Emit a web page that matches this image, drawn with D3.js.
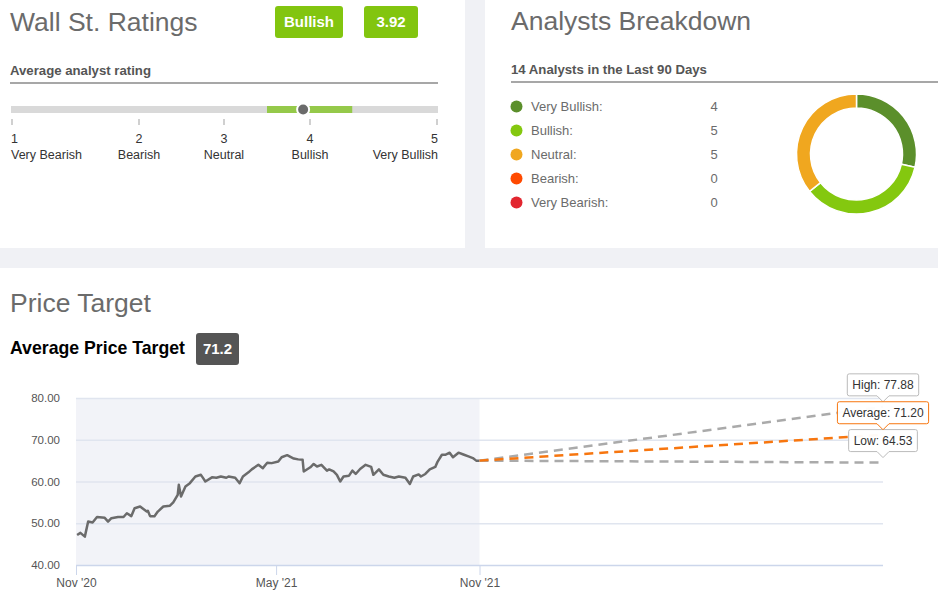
<!DOCTYPE html>
<html>
<head>
<meta charset="utf-8">
<script src="https://cdn.jsdelivr.net/npm/d3@7"></script>
<style>
  body { margin: 0; background: #f0f1f5; }
  svg { display: block; font-family: "Liberation Sans", Arial, sans-serif; }
</style>
</head>
<body>
<svg id="chart" width="938" height="592"></svg>
<script>
// ratings
const ratingScaleValues = [1, 2, 3, 4, 5];
const ratingScaleLabels = ["Very Bearish", "Bearish", "Neutral", "Bullish", "Very Bullish"];
const ratingAverage = 3.92;
const ratingBand = [3.5, 4.33];
const ratingText = "Bullish";

// breakdown
const breakdownLabels = ["Very Bullish", "Bullish", "Neutral", "Bearish", "Very Bearish"];
const breakdownCounts = [4, 5, 5, 0, 0];
const breakdownColors = ["#5b8f2b", "#84c80f", "#f0a71f", "#ff4a00", "#e2262f"];

// price history
const priceDates = [
  "2020-11-02", "2020-11-05", "2020-11-09", "2020-11-12", "2020-11-16", "2020-11-20", "2020-11-27", "2020-11-30",
  "2020-12-03", "2020-12-09", "2020-12-14", "2020-12-17", "2020-12-21", "2020-12-24", "2020-12-29",
  "2021-01-04", "2021-01-05", "2021-01-07", "2021-01-11", "2021-01-14", "2021-01-19", "2021-01-25", "2021-01-28",
  "2021-02-01", "2021-02-02", "2021-02-04", "2021-02-08", "2021-02-12", "2021-02-17", "2021-02-22", "2021-02-24", "2021-02-26",
  "2021-03-04", "2021-03-08", "2021-03-12", "2021-03-17", "2021-03-19", "2021-03-25", "2021-03-29",
  "2021-04-01", "2021-04-06", "2021-04-09", "2021-04-15", "2021-04-19", "2021-04-23", "2021-04-27",
  "2021-05-03", "2021-05-06", "2021-05-11", "2021-05-17", "2021-05-21", "2021-05-25", "2021-05-26",
  "2021-06-01", "2021-06-04", "2021-06-07", "2021-06-11", "2021-06-16", "2021-06-18", "2021-06-22", "2021-06-25", "2021-06-28",
  "2021-07-01", "2021-07-06", "2021-07-09", "2021-07-12", "2021-07-16", "2021-07-21", "2021-07-26", "2021-07-28",
  "2021-08-02", "2021-08-06", "2021-08-11", "2021-08-16", "2021-08-20", "2021-08-26", "2021-08-30",
  "2021-09-02", "2021-09-07", "2021-09-09", "2021-09-13", "2021-09-17", "2021-09-22", "2021-09-24", "2021-09-28",
  "2021-10-01", "2021-10-05", "2021-10-08", "2021-10-13", "2021-10-18", "2021-10-22", "2021-10-26", "2021-10-29",
  "2021-11-01"
];
const priceValues = [
  47.2, 47.7, 46.8, 50.4, 50.2, 51.5, 51.3, 50.4,
  51.2, 51.5, 51.5, 52.4, 51.7, 53.6, 54.0,
  52.8, 53.0, 51.7, 51.7, 52.8, 54.0, 54.2, 55.0,
  56.8, 59.2, 56.4, 58.8, 59.6, 61.2, 61.6, 60.8, 60.0,
  61.0, 60.9, 61.2, 60.9, 61.2, 60.9, 59.6,
  61.2, 62.2, 62.9, 64.0, 63.2, 64.5, 64.4,
  64.8, 65.8, 66.3, 65.5, 65.3, 65.2, 62.4,
  63.4, 64.2, 63.6, 64.0, 62.6, 62.9, 62.4, 61.6, 60.0,
  61.2, 61.4, 62.6, 61.8, 63.0, 64.0, 63.5, 61.6,
  62.9, 61.6, 61.2, 60.9, 61.2, 60.9, 59.4,
  61.2, 61.7, 61.2, 61.8, 62.9, 63.5, 64.7, 66.4,
  66.4, 66.9, 65.8, 66.9, 66.4, 66.0, 65.6, 65.0,
  65.0
];

// targets
const targetLabels = ["High", "Average", "Low"];
const targetValues = [77.88, 71.20, 64.53];
const targetStart = "2021-11-01";
const targetEnd = "2022-11-01";
const averageTarget = "71.2";

const yTicks = [40, 50, 60, 70, 80];
const xTickDates = ["2020-11-01", "2021-05-01", "2021-11-01"];
const xTickLabels = ["Nov '20", "May '21", "Nov '21"];

const parse = d3.timeParse("%Y-%m-%d");
const svg = d3.select("#chart");
const titleColor = "#6b6b6b";

// panels
svg.append("rect").attr("x", 0).attr("y", 0).attr("width", 465).attr("height", 248).attr("fill", "#fff");
svg.append("rect").attr("x", 485).attr("y", 0).attr("width", 453).attr("height", 248).attr("fill", "#fff");
svg.append("rect").attr("x", 0).attr("y", 268).attr("width", 938).attr("height", 324).attr("fill", "#fff");

// ---- Wall St. Ratings ----
svg.append("text").attr("x", 10).attr("y", 31).attr("font-size", 26.5).attr("fill", titleColor).text("Wall St. Ratings");

function badge(x, y, w, h, fill, label, size) {
  svg.append("rect").attr("x", x).attr("y", y).attr("width", w).attr("height", h).attr("rx", 3).attr("fill", fill);
  svg.append("text").attr("x", x + w / 2).attr("y", y + h / 2).attr("dy", "0.36em")
    .attr("text-anchor", "middle").attr("font-size", size).attr("font-weight", "bold")
    .attr("fill", "#fff").text(label);
}
badge(275, 6, 68, 32, "#82c50f", ratingText, 15);
badge(364, 6, 54, 32, "#82c50f", ratingAverage.toFixed(2), 15);

svg.append("text").attr("x", 10).attr("y", 75).attr("font-size", 13.2).attr("font-weight", "bold")
  .attr("fill", "#555").text("Average analyst rating");
svg.append("line").attr("x1", 10).attr("x2", 438).attr("y1", 83).attr("y2", 83)
  .attr("stroke", "#8a8a8a").attr("stroke-width", 1.5);

const rx = d3.scaleLinear().domain(ratingScaleValues).range([11, 139, 224, 310, 438]);
svg.append("rect").attr("x", rx(1)).attr("y", 106).attr("width", rx(5) - rx(1)).attr("height", 7).attr("fill", "#d9d9d9");
svg.append("rect").attr("x", rx(ratingBand[0])).attr("y", 106)
  .attr("width", rx(ratingBand[1]) - rx(ratingBand[0])).attr("height", 7).attr("fill", "#95c94a");
svg.append("circle").attr("cx", rx(ratingAverage)).attr("cy", 109.5).attr("r", 6)
  .attr("fill", "#6b6b6b").attr("stroke", "#fff").attr("stroke-width", 2);

const rTicks = svg.append("g").selectAll("g").data(ratingScaleValues).enter().append("g");
const anchorFor = (i) => (i === 0 ? "start" : i === ratingScaleValues.length - 1 ? "end" : "middle");
rTicks.append("line")
  .attr("x1", (d, i) => rx(d) + (i === 0 ? 1 : i === 4 ? -1 : 0))
  .attr("x2", (d, i) => rx(d) + (i === 0 ? 1 : i === 4 ? -1 : 0))
  .attr("y1", 119).attr("y2", 125).attr("stroke", "#d0d0d0").attr("stroke-width", 2);
rTicks.append("text").attr("x", (d) => rx(d)).attr("y", 143)
  .attr("text-anchor", (d, i) => anchorFor(i)).attr("font-size", 12.5).attr("fill", "#333").text((d) => d);
rTicks.append("text").attr("x", (d) => rx(d)).attr("y", 159)
  .attr("text-anchor", (d, i) => anchorFor(i)).attr("font-size", 12.5).attr("fill", "#333")
  .text((d, i) => ratingScaleLabels[i]);

// ---- Analysts Breakdown ----
svg.append("text").attr("x", 511).attr("y", 30).attr("font-size", 26.5).attr("fill", titleColor).text("Analysts Breakdown");
const total = d3.sum(breakdownCounts);
svg.append("text").attr("x", 511).attr("y", 74).attr("font-size", 13.2).attr("font-weight", "bold")
  .attr("fill", "#555").text(total + " Analysts in the Last 90 Days");
svg.append("line").attr("x1", 511).attr("x2", 938).attr("y1", 82).attr("y2", 82)
  .attr("stroke", "#8a8a8a").attr("stroke-width", 1.5);

const legend = svg.append("g").selectAll("g").data(breakdownLabels).enter().append("g")
  .attr("transform", (d, i) => `translate(0,${106.5 + i * 24})`);
legend.append("circle").attr("cx", 516.5).attr("cy", 0).attr("r", 6).attr("fill", (d, i) => breakdownColors[i]);
legend.append("text").attr("x", 531).attr("y", 0).attr("dy", "0.35em").attr("font-size", 13)
  .attr("fill", "#6b6b6b").text((d) => d + ":");
legend.append("text").attr("x", 714).attr("y", 0).attr("dy", "0.35em").attr("font-size", 13)
  .attr("text-anchor", "middle").attr("fill", "#6b6b6b").text((d, i) => breakdownCounts[i]);

const pie = d3.pie().sort(null).value((d) => d);
const arc = d3.arc().innerRadius(46).outerRadius(60);
svg.append("g").attr("transform", "translate(856.5,154)")
  .selectAll("path").data(pie(breakdownCounts).filter((d) => d.value > 0)).enter().append("path")
  .attr("d", arc).attr("fill", (d) => breakdownColors[d.index])
  .attr("stroke", "#fff").attr("stroke-width", 1.5);

// ---- Price Target ----
svg.append("text").attr("x", 10).attr("y", 312).attr("font-size", 26.5).attr("fill", titleColor).text("Price Target");
svg.append("text").attr("x", 10).attr("y", 354).attr("font-size", 17.7).attr("font-weight", "bold")
  .attr("fill", "#000").text("Average Price Target");
badge(196, 333, 43, 32, "#555555", averageTarget, 15);

const x = d3.scaleTime().domain([parse("2020-11-01"), parse(targetEnd)]).range([76, 883]);
const y = d3.scaleLinear().domain([40, 80]).range([565, 398]);

svg.append("rect").attr("x", x(parse("2020-11-01"))).attr("y", y(80))
  .attr("width", x(parse(targetStart)) - x(parse("2020-11-01"))).attr("height", y(40) - y(80))
  .attr("fill", "#f2f3f8");

svg.append("g").attr("transform", "translate(76,0)")
  .call(d3.axisLeft(y).tickValues(yTicks).tickSize(-(883 - 76)).tickFormat((d) => d.toFixed(2)))
  .call((g) => g.select(".domain").remove())
  .call((g) => g.selectAll(".tick line").attr("stroke", (d) => (d === 40 ? "#ccd6eb" : "#e0e5ef")).attr("stroke-width", 1.3))
  .call((g) => g.selectAll(".tick text").attr("x", -16).attr("font-size", 11.5).attr("fill", "#555")
    .attr("font-family", "'Liberation Sans', Arial, sans-serif"));

svg.append("g").attr("transform", `translate(0,${y(40)})`)
  .call(d3.axisBottom(x).tickValues(xTickDates.map(parse)).tickSize(10).tickPadding(3)
    .tickFormat((d, i) => xTickLabels[i]))
  .call((g) => g.select(".domain").remove())
  .call((g) => g.selectAll(".tick line").attr("stroke", "#ccd6eb"))
  .call((g) => g.selectAll(".tick text").attr("font-size", 12).attr("fill", "#555")
    .attr("font-family", "'Liberation Sans', Arial, sans-serif"));

const line = d3.line().x((d, i) => x(parse(priceDates[i]))).y((d) => y(d));
svg.append("path").datum(priceValues).attr("d", line).attr("fill", "none")
  .attr("stroke", "#6b6b6b").attr("stroke-width", 2.5).attr("stroke-linejoin", "round");

const lastPrice = priceValues[priceValues.length - 1];
const targetColors = ["#aaaaaa", "#f7760f", "#aaaaaa"];
[0, 2, 1].forEach((i) => {
  svg.append("line")
    .attr("x1", x(parse(targetStart))).attr("y1", y(lastPrice))
    .attr("x2", x(parse(targetEnd))).attr("y2", y(targetValues[i]))
    .attr("stroke", targetColors[i]).attr("stroke-width", 2.5).attr("stroke-dasharray", "9,6");
});

// tooltips (high, low first, average on top)
[0, 2, 1].forEach((i) => {
  const px = x(parse(targetEnd));
  const py = y(targetValues[i]);
  const g = svg.append("g");
  const t = g.append("text").attr("font-size", 12).attr("fill", "#333")
    .attr("text-anchor", "middle").text(targetLabels[i] + ": " + targetValues[i].toFixed(2));
  const w = t.node().getComputedTextLength() + 10;
  const h = 22;
  const bottom = py - 11;
  const top = bottom - h;
  const left = px - w / 2;
  const path = `M${left + 2},${top} H${left + w - 2} Q${left + w},${top} ${left + w},${top + 2}` +
    ` V${bottom - 2} Q${left + w},${bottom} ${left + w - 2},${bottom}` +
    ` H${px + 6} L${px},${bottom + 6} L${px - 6},${bottom}` +
    ` H${left + 2} Q${left},${bottom} ${left},${bottom - 2} V${top + 2} Q${left},${top} ${left + 2},${top} Z`;
  g.insert("path", "text").attr("d", path).attr("fill", "rgba(255,255,255,0.96)")
    .attr("stroke", i === 1 ? "#f7760f" : "#bbbbbb").attr("stroke-width", 1);
  t.attr("x", px).attr("y", top + h / 2).attr("dy", "0.35em");
});
</script>
</body>
</html>
